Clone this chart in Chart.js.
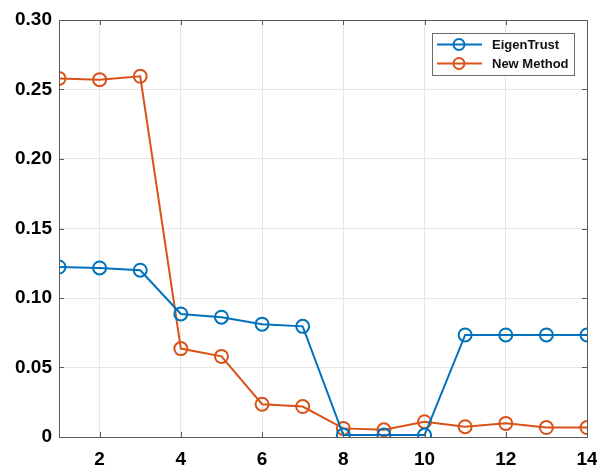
<!DOCTYPE html>
<html>
<head>
<meta charset="utf-8">
<script src="https://cdn.jsdelivr.net/npm/chart.js@4"></script>
<style>
  html, body { margin: 0; padding: 0; background: #fff; }
  #wrap { width: 597px; height: 468px; }
</style>
</head>
<body>
<div id="wrap"><canvas id="c" width="597" height="468"></canvas></div>
<script>
// Node index on the x axis
const nodes = [1, 2, 3, 4, 5, 6, 7, 8, 9, 10, 11, 12, 13, 14];
// Trust values per node
const eigenTrust = [0.1223, 0.1216, 0.1200, 0.0885, 0.0862, 0.0812, 0.0796, 0.0014, 0.0014, 0.0014, 0.0734, 0.0734, 0.0734, 0.0734];
const newMethod  = [0.2580, 0.2571, 0.2595, 0.0636, 0.0580, 0.0236, 0.0219, 0.0062, 0.0052, 0.0110, 0.0074, 0.0098, 0.0068, 0.0068];
// Tick labels
const xTicks = [2, 4, 6, 8, 10, 12, 14];
const yTicks = [0, 0.05, 0.10, 0.15, 0.20, 0.25, 0.30];

const BLUE = '#0072BD';
const ORANGE = '#D95319';
const FONT = '"Liberation Sans", Arial, sans-serif';

function series(label, vals, color) {
  return {
    label,
    data: nodes.map((n, i) => ({ x: n, y: vals[i] })),
    borderColor: color,
    backgroundColor: 'transparent',
    borderWidth: 2,
    pointRadius: 6.5,
    pointBorderWidth: 2,
    pointBackgroundColor: 'transparent',
    pointBorderColor: color,
    tension: 0,
  };
}

// Box frame, inward tick marks and a MATLAB-style legend
const framePlugin = {
  id: 'frame',
  afterDatasetsDraw(chart) {
    const { ctx, chartArea: a, scales } = chart;
    ctx.save();
    ctx.strokeStyle = '#5a5a5a';
    ctx.lineWidth = 1;
    ctx.beginPath();
    xTicks.forEach(v => {
      const px = Math.round(scales.x.getPixelForValue(v)) + 0.5;
      ctx.moveTo(px, a.bottom); ctx.lineTo(px, a.bottom - 5);
      ctx.moveTo(px, a.top); ctx.lineTo(px, a.top + 5);
    });
    yTicks.forEach(v => {
      const py = Math.round(scales.y.getPixelForValue(v)) + 0.5;
      ctx.moveTo(a.left, py); ctx.lineTo(a.left + 5, py);
      ctx.moveTo(a.right, py); ctx.lineTo(a.right - 5, py);
    });
    ctx.stroke();
    ctx.strokeRect(Math.round(a.left) + 0.5, Math.round(a.top) + 0.5,
                   Math.round(a.right - a.left), Math.round(a.bottom - a.top));

    // legend
    const bx = a.right - 155, by = a.top + 13, bw = 142, bh = 42;
    ctx.fillStyle = '#fff';
    ctx.fillRect(bx, by, bw, bh);
    ctx.strokeStyle = '#6a6a6a';
    ctx.strokeRect(bx + 0.5, by + 0.5, bw, bh);
    ctx.font = 'bold 13px ' + FONT;
    ctx.textBaseline = 'middle';
    chart.data.datasets.forEach((ds, i) => {
      const cy = by + 11.5 + i * 19;
      ctx.strokeStyle = ds.borderColor;
      ctx.lineWidth = 2;
      ctx.beginPath();
      ctx.moveTo(bx + 5, cy); ctx.lineTo(bx + 50, cy);
      ctx.stroke();
      ctx.beginPath();
      ctx.arc(bx + 27, cy, 5.5, 0, Math.PI * 2);
      ctx.stroke();
      ctx.fillStyle = '#111';
      ctx.fillText(ds.label, bx + 60, cy + 0.5);
    });
    ctx.restore();
  }
};

new Chart(document.getElementById('c'), {
  type: 'line',
  data: {
    datasets: [
      series('EigenTrust', eigenTrust, BLUE),
      series('New Method', newMethod, ORANGE),
    ]
  },
  options: {
    responsive: false,
    animation: false,
    layout: { padding: { left: 0, right: 10, top: 20, bottom: 0 } },
    plugins: { legend: { display: false }, tooltip: { enabled: false } },
    scales: {
      x: {
        type: 'linear',
        min: 1, max: 14,
        afterBuildTicks(scale) { scale.ticks = xTicks.map(v => ({ value: v })); },
        afterFit(scale) {
          scale.height = 31;
          scale.paddingLeft = 0;
          scale.paddingRight = 0;
        },
        grid: { color: '#e6e6e6', drawTicks: false },
        border: { display: false },
        ticks: {
          color: '#000',
          padding: 11,
          font: { family: FONT, size: 19, weight: 'bold' },
          maxRotation: 0,
        }
      },
      y: {
        type: 'linear',
        min: 0, max: 0.30,
        afterBuildTicks(scale) { scale.ticks = yTicks.map(v => ({ value: v })); },
        afterFit(scale) {
          scale.width = 59;
          scale.paddingTop = 0;
          scale.paddingBottom = 0;
        },
        grid: { color: '#e6e6e6', drawTicks: false },
        border: { display: false },
        ticks: {
          color: '#000',
          padding: 7,
          font: { family: FONT, size: 19, weight: 'bold' },
          callback: v => (v === 0 ? '0' : v.toFixed(2)),
        }
      }
    }
  },
  plugins: [framePlugin]
});
</script>
</body>
</html>
